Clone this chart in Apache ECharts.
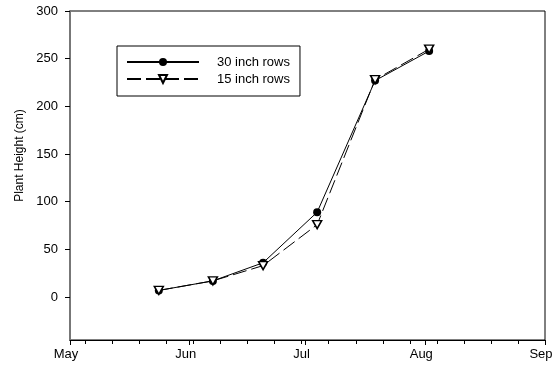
<!DOCTYPE html>
<html>
<head>
<meta charset="utf-8">
<script src="https://cdn.jsdelivr.net/npm/echarts@6/dist/echarts.min.js"></script>
<style>html,body{margin:0;padding:0;background:#fff}#c{width:554px;height:368px}</style>
</head>
<body>
<div id="c"></div>
<script>
// Sampling dates
var dates = ['2001-05-24', '2001-06-07', '2001-06-20', '2001-07-04', '2001-07-19', '2001-08-02'];
// Plant height (cm)
var rows30 = [7, 17, 36, 89, 227, 258];
var rows15 = [7, 17, 33, 76, 228, 260];
var seriesNames = ['30 inch rows', '15 inch rows'];
// Axis ticks and labels
var monthTicks = ['2001-05-01', '2001-06-01', '2001-07-01', '2001-08-01', '2001-09-01'];
var monthLabels = ['May', 'Jun', 'Jul', 'Aug', 'Sep'];
var weekTicks = ['2001-05-05', '2001-05-12', '2001-05-19', '2001-05-26', '2001-06-02', '2001-06-09',
  '2001-06-16', '2001-06-23', '2001-06-30', '2001-07-07', '2001-07-14', '2001-07-21', '2001-07-28',
  '2001-08-04', '2001-08-11', '2001-08-18', '2001-08-25', '2001-09-01'];
var yTicks = [0, 50, 100, 150, 200, 250, 300];
var yMin = -45, yMax = 300;
var yTitle = 'Plant Height (cm)';

// day number counted from the first month tick
function dayOf(s) {
  var p = s.split('-').map(Number);
  var q = monthTicks[0].split('-').map(Number);
  return Math.round((Date.UTC(p[0], p[1] - 1, p[2]) - Date.UTC(q[0], q[1] - 1, q[2])) / 86400000);
}
var monthDays = monthTicks.map(dayOf);
var weekDays = weekTicks.map(dayOf);
var font = 'Arial, "Liberation Sans", sans-serif';

var chart = echarts.init(document.getElementById('c'), null, {renderer: 'canvas'});
chart.setOption({
  animation: false,
  backgroundColor: '#fff',
  grid: {
    left: 70, right: 9, top: 11, bottom: 28,
    show: true, borderColor: '#000', borderWidth: 1,
    outerBoundsMode: 'none', containLabel: false
  },
  legend: {
    orient: 'vertical',
    left: 117, top: 46,
    itemWidth: 72, itemHeight: 10, itemGap: 3,
    padding: [9, 10, 10, 9],
    borderColor: '#000', borderWidth: 1,
    backgroundColor: '#fff',
    textStyle: {color: '#000', fontSize: 13, lineHeight: 14, fontFamily: font, padding: [0, 0, 0, 13]},
    data: seriesNames
  },
  xAxis: [{
    type: 'value',
    min: monthDays[0], max: monthDays[monthDays.length - 1],
    axisLine: {show: true, onZero: false, lineStyle: {color: '#000', width: 1}},
    axisTick: {show: true, length: 5, lineStyle: {color: '#000'}, customValues: monthDays},
    axisLabel: {
      customValues: monthDays,
      color: '#000', fontSize: 13, fontFamily: font, margin: 8,
      padding: [0, 8, 0, 0],
      showMinLabel: true, showMaxLabel: true,
      formatter: function (v) {
        var i = monthDays.indexOf(v);
        return i >= 0 ? monthLabels[i] : '';
      }
    },
    splitLine: {show: false}
  }, {
    type: 'value',
    gridIndex: 0,
    position: 'bottom',
    min: monthDays[0], max: monthDays[monthDays.length - 1],
    axisLine: {show: false, onZero: false},
    axisTick: {show: true, length: 4, lineStyle: {color: '#000'}, customValues: weekDays},
    axisLabel: {show: false},
    splitLine: {show: false}
  }],
  yAxis: {
    type: 'value',
    min: yMin, max: yMax,
    name: yTitle,
    nameLocation: 'middle',
    nameGap: 44,
    nameRotate: 90,
    nameTextStyle: {color: '#000', fontSize: 12, fontFamily: font, padding: [0, 0, 0, 40]},
    axisLine: {show: true, onZero: false, lineStyle: {color: '#777', width: 2}},
    axisTick: {show: true, length: 5, lineStyle: {color: '#000'}, customValues: yTicks},
    axisLabel: {customValues: yTicks, color: '#000', fontSize: 13, fontFamily: font, margin: 12},
    splitLine: {show: false}
  },
  series: [{
    name: seriesNames[0],
    type: 'line',
    data: dates.map(function (d, i) { return [dayOf(d), rows30[i]]; }),
    symbol: 'circle',
    symbolSize: 8,
    itemStyle: {color: '#000'},
    lineStyle: {color: '#000', width: 1},
    z: 2
  }, {
    name: seriesNames[1],
    type: 'line',
    data: dates.map(function (d, i) { return [dayOf(d), rows15[i]]; }),
    symbol: 'path://M0,0L10,0L5,9Z',
    symbolSize: [9, 8],
    itemStyle: {color: '#fff', borderColor: '#000', borderWidth: 1.5},
    lineStyle: {color: '#000', width: 1, type: [14, 5]},
    z: 3
  }]
});
</script>
</body>
</html>
